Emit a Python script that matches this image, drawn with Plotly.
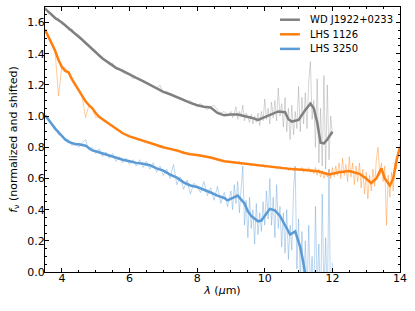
import plotly.graph_objects as go

# ---------------- data ----------------
# smooth (binned) spectra
gray_wl = [3.5, 3.6, 3.8, 4.0, 4.2, 4.4, 4.6, 4.8, 5.0, 5.2, 5.4, 5.6, 5.8, 6.0, 6.2, 6.4, 6.6, 6.8,
           7.0, 7.2, 7.4, 7.6, 7.8, 8.0, 8.2, 8.4, 8.6, 8.8, 9.0, 9.2, 9.4, 9.6, 9.8, 10.0, 10.2,
           10.4, 10.6, 10.7, 10.8, 11.0, 11.2, 11.35, 11.45, 11.55, 11.65, 11.75, 11.85, 11.95, 12.0]
gray_flux = [1.69, 1.67, 1.63, 1.60, 1.565, 1.53, 1.49, 1.45, 1.41, 1.37, 1.34, 1.31, 1.29, 1.265,
             1.245, 1.225, 1.20, 1.18, 1.155, 1.14, 1.12, 1.10, 1.085, 1.07, 1.06, 1.055, 1.02,
             1.005, 1.01, 1.01, 1.00, 0.99, 0.975, 0.995, 1.01, 1.03, 1.025, 0.98, 0.965, 0.975,
             1.04, 1.08, 1.05, 0.96, 0.83, 0.825, 0.85, 0.89, 0.90]

orange_wl = [3.5, 3.6, 3.7, 3.8, 3.9, 4.0, 4.1, 4.2, 4.3, 4.4, 4.5, 4.6, 4.7, 4.8, 4.9, 5.0, 5.1,
             5.2, 5.4, 5.6, 5.8, 6.0, 6.2, 6.4, 6.6, 6.8, 7.0, 7.2, 7.4, 7.6, 7.8, 8.0, 8.4, 8.8,
             9.2, 9.6, 10.0, 10.4, 10.8, 11.2, 11.6, 11.9, 12.2, 12.5, 12.8, 13.0, 13.15, 13.3,
             13.45, 13.55, 13.7, 13.8, 13.9, 14.0]
orange_flux = [1.555, 1.51, 1.465, 1.42, 1.36, 1.315, 1.29, 1.28, 1.235, 1.20, 1.165, 1.13, 1.095,
               1.07, 1.05, 1.02, 0.995, 0.98, 0.95, 0.92, 0.89, 0.87, 0.855, 0.84, 0.825, 0.81,
               0.80, 0.79, 0.78, 0.765, 0.755, 0.75, 0.735, 0.71, 0.70, 0.69, 0.68, 0.67, 0.66,
               0.655, 0.645, 0.625, 0.64, 0.648, 0.63, 0.60, 0.57, 0.60, 0.665, 0.60, 0.555, 0.60,
               0.72, 0.80]

blue_wl = [3.5, 3.6, 3.7, 3.8, 3.9, 4.0, 4.1, 4.2, 4.3, 4.4, 4.5, 4.6, 4.7, 4.8, 4.9, 5.0, 5.2,
           5.4, 5.6, 5.8, 6.0, 6.2, 6.4, 6.6, 6.8, 7.0, 7.2, 7.4, 7.6, 7.8, 8.0, 8.2, 8.4, 8.6,
           8.8, 8.9, 9.0, 9.2, 9.4, 9.5, 9.6, 9.8, 9.9, 10.0, 10.15, 10.3, 10.45, 10.6, 10.75,
           10.9, 11.05, 11.15, 11.2]
blue_flux = [1.005, 0.98, 0.95, 0.92, 0.895, 0.87, 0.85, 0.835, 0.825, 0.82, 0.82, 0.815, 0.81,
             0.795, 0.78, 0.775, 0.76, 0.745, 0.73, 0.72, 0.71, 0.70, 0.695, 0.685, 0.665, 0.65,
             0.625, 0.605, 0.575, 0.555, 0.545, 0.53, 0.51, 0.49, 0.475, 0.46, 0.47, 0.49, 0.44,
             0.39, 0.36, 0.325, 0.33, 0.36, 0.405, 0.395, 0.36, 0.30, 0.24, 0.26, 0.16, 0.05, -0.02]

# raw (unbinned) spectra: coarse grid below 9 um, fine grid above
wl_coarse = [3.5, 3.6, 3.7, 3.8, 3.9, 4.0, 4.1, 4.2, 4.3, 4.4, 4.5, 4.6, 4.7, 4.8, 4.9, 5.0, 5.1,
             5.2, 5.3, 5.4, 5.5, 5.6, 5.7, 5.8, 5.9, 6.0, 6.1, 6.2, 6.3, 6.4, 6.5, 6.6, 6.7, 6.8,
             6.9, 7.0, 7.1, 7.2, 7.3, 7.4, 7.5, 7.6, 7.7, 7.8, 7.9, 8.0, 8.1, 8.2, 8.3, 8.4, 8.5,
             8.6, 8.7, 8.8, 8.9]
wl_fine = [9.0, 9.05, 9.1, 9.15, 9.2, 9.25, 9.3, 9.35, 9.4, 9.45, 9.5, 9.55, 9.6, 9.65, 9.7, 9.75,
           9.8, 9.85, 9.9, 9.95, 10.0, 10.05, 10.1, 10.15, 10.2, 10.25, 10.3, 10.35, 10.4, 10.45,
           10.5, 10.55, 10.6, 10.65, 10.7, 10.75, 10.8, 10.85, 10.9, 10.95, 11.0, 11.05, 11.1,
           11.15, 11.2, 11.25, 11.3, 11.35, 11.4, 11.45, 11.5, 11.55, 11.6, 11.65, 11.7, 11.75,
           11.8, 11.85, 11.9, 11.95, 12.0, 12.05, 12.1, 12.15, 12.2, 12.25, 12.3, 12.35, 12.4,
           12.45, 12.5, 12.55, 12.6, 12.65, 12.7, 12.75, 12.8, 12.85, 12.9, 12.95, 13.0, 13.05,
           13.1, 13.15, 13.2, 13.25, 13.3, 13.35, 13.4, 13.45, 13.5, 13.55, 13.6, 13.65, 13.7,
           13.75, 13.8, 13.85, 13.9, 13.95, 14.0]

gray_raw_coarse = [1.70, 1.66, 1.66, 1.62, 1.63, 1.59, 1.59, 1.55, 1.56, 1.52, 1.52, 1.50, 1.46,
                   1.46, 1.42, 1.42, 1.38, 1.38, 1.35, 1.33, 1.34, 1.30, 1.31, 1.28, 1.27, 1.27,
                   1.24, 1.25, 1.23, 1.22, 1.21, 1.20, 1.19, 1.18, 1.20, 1.15, 1.16, 1.14, 1.13,
                   1.12, 1.12, 1.11, 1.09, 1.10, 1.08, 1.07, 1.08, 1.06, 1.04, 1.06, 1.07, 1.04,
                   1.02, 1.03, 1.00]
gray_raw_fine = [1.03, 0.99, 1.02, 1.06, 0.98, 1.03, 1.00, 1.07, 0.97, 1.02, 0.99, 0.96, 1.01,
                 0.95, 1.00, 0.96, 1.02, 0.94, 1.03, 0.97, 1.11, 0.98, 1.05, 0.95, 1.09, 0.99,
                 1.10, 0.97, 1.18, 1.00, 1.08, 0.93, 1.12, 0.90, 1.05, 0.85, 1.07, 0.88, 1.03,
                 0.92, 1.19, 0.90, 1.12, 0.95, 1.15, 0.92, 1.22, 1.35, 0.98, 1.10, 0.80, 1.24,
                 0.70, 1.05, 0.68, 1.26, 0.66, 1.20, 0.72, 1.00, 0.88]

orange_raw_coarse = [1.56, 1.50, 1.47, 1.41, 1.13, 1.32, 1.31, 1.27, 1.24, 1.19, 1.17, 1.12, 0.99,
                     1.07, 1.05, 0.99, 1.00, 0.98, 0.97, 0.95, 0.94, 0.92, 0.91, 0.89, 0.88, 0.87,
                     0.86, 0.86, 0.85, 0.84, 0.83, 0.83, 0.82, 0.81, 0.80, 0.80, 0.79, 0.79, 0.78,
                     0.78, 0.77, 0.77, 0.76, 0.76, 0.75, 0.75, 0.75, 0.74, 0.74, 0.73, 0.73, 0.72,
                     0.72, 0.71, 0.71]
orange_raw_fine = [0.71, 0.70, 0.71, 0.70, 0.70, 0.71, 0.69, 0.70, 0.69, 0.70, 0.69, 0.70, 0.68,
                   0.69, 0.69, 0.68, 0.69, 0.68, 0.68, 0.69, 0.67, 0.68, 0.68, 0.67, 0.68, 0.67,
                   0.68, 0.66, 0.67, 0.68, 0.66, 0.67, 0.66, 0.67, 0.65, 0.67, 0.66, 0.65, 0.67,
                   0.66, 0.65, 0.66, 0.67, 0.64, 0.66, 0.65, 0.67, 0.64, 0.66, 0.63, 0.67, 0.62,
                   0.66, 0.61, 0.65, 0.60, 0.64, 0.61, 0.66, 0.60, 0.67, 0.61, 0.68, 0.62, 0.70,
                   0.60, 0.73, 0.62, 0.69, 0.58, 0.74, 0.61, 0.70, 0.56, 0.68, 0.58, 0.70, 0.54,
                   0.66, 0.50, 0.64, 0.47, 0.62, 0.52, 0.66, 0.55, 0.72, 0.80, 0.62, 0.70, 0.58,
                   0.68, 0.30, 0.62, 0.48, 0.64, 0.52, 0.70, 0.66, 0.78, 0.82]

blue_raw_coarse = [1.00, 0.99, 0.94, 0.93, 0.88, 0.88, 0.84, 0.85, 0.81, 0.83, 0.80, 0.83, 0.85,
                   0.78, 0.80, 0.76, 0.79, 0.74, 0.77, 0.73, 0.76, 0.71, 0.74, 0.70, 0.73, 0.69,
                   0.72, 0.68, 0.72, 0.67, 0.71, 0.66, 0.70, 0.64, 0.68, 0.62, 0.66, 0.60, 0.69,
                   0.56, 0.61, 0.53, 0.59, 0.50, 0.57, 0.55, 0.51, 0.58, 0.49, 0.54, 0.46, 0.55,
                   0.44, 0.51, 0.42]
blue_raw_fine = [0.52, 0.40, 0.56, 0.44, 0.58, 0.38, 0.52, 0.68, 0.30, 0.46, 0.22, 0.48, 0.28,
                 0.40, 0.18, 0.44, 0.24, 0.38, 0.26, 0.45, 0.30, 0.52, 0.34, 0.60, 0.30, 0.48,
                 0.22, 0.56, 0.28, 0.42, 0.16, 0.38, 0.12, 0.40, 0.08, 0.30, 0.14, 0.52, 0.68,
                 0.02, 0.34, -0.05, 0.26, -0.10, 0.20, -0.15, 0.30, -0.12, 0.10, -0.20, 0.42,
                 -0.10, 0.18, -0.25, 0.50, -0.15, 0.22, -0.20, 0.66, -0.30, 0.06]

names = ["WD J1922+0233", "LHS 1126", "LHS 3250"]
dark_colors = ["rgb(128,128,128)", "rgb(255,127,14)", "rgb(91,155,213)"]
light_colors = ["rgba(150,150,150,0.4)", "rgba(255,127,14,0.4)", "rgba(91,155,213,0.4)"]

# ---------------- figure ----------------
fig = go.Figure()

raw_sets = [
    (wl_coarse + wl_fine[:len(gray_raw_fine)], gray_raw_coarse + gray_raw_fine),
    (wl_coarse + wl_fine[:len(orange_raw_fine)], orange_raw_coarse + orange_raw_fine),
    (wl_coarse + wl_fine[:len(blue_raw_fine)], blue_raw_coarse + blue_raw_fine),
]
for (x, y), c in zip(raw_sets, light_colors):
    fig.add_trace(go.Scatter(x=x, y=y, mode="lines", line=dict(color=c, width=1),
                             showlegend=False, hoverinfo="skip"))

smooth_sets = [(gray_wl, gray_flux), (orange_wl, orange_flux), (blue_wl, blue_flux)]
for (x, y), c, n in zip(smooth_sets, dark_colors, names):
    fig.add_trace(go.Scatter(x=x, y=y, mode="lines", name=n, showlegend=False,
                             line=dict(color=c, width=2.5)))

# legend drawn as line samples + labels (paper coordinates)
legend_rows_y = [0.952, 0.897, 0.842]
for n, c, ly in zip(names, dark_colors, legend_rows_y):
    fig.add_shape(type="line", xref="paper", yref="paper", x0=0.662, x1=0.718, y0=ly, y1=ly,
                  line=dict(color=c, width=2.5))
    fig.add_annotation(xref="paper", yref="paper", x=0.742, y=ly, text=n, showarrow=False,
                       xanchor="left", yanchor="middle",
                       font=dict(family="DejaVu Sans", size=10, color="black"))

axis_common = dict(
    showline=True, linecolor="black", linewidth=1, mirror="ticks",
    ticks="inside", ticklen=4, tickwidth=1, tickcolor="black",
    showgrid=False, zeroline=False,
    tickfont=dict(family="DejaVu Sans", size=11, color="black"),
)

fig.update_xaxes(range=[3.5, 14], dtick=2, tick0=0, ticklabelstandoff=-4,
                 minor=dict(ticks="inside", ticklen=2, tickcolor="black", dtick=0.5),
                 title=dict(text="<i>λ</i> (<i>μ</i>m)", standoff=2,
                            font=dict(family="DejaVu Sans", size=11, color="black")),
                 **axis_common)
fig.update_yaxes(range=[0, 1.7], dtick=0.2, tick0=0, tickformat=".1f", ticklabelstandoff=-3,
                 minor=dict(ticks="inside", ticklen=2, tickcolor="black", dtick=0.05),
                 title=dict(text="<i>f</i><sub>ν</sub> (normalized and shifted)", standoff=7,
                            font=dict(family="DejaVu Sans", size=11, color="black")),
                 **axis_common)

fig.update_layout(
    width=415, height=311,
    margin=dict(l=45, r=15, t=7, b=39),
    plot_bgcolor="white", paper_bgcolor="white",
    font=dict(family="DejaVu Sans", size=11, color="black"),
    showlegend=False,
)

fig.write_html("out.html", config={"displayModeBar": False},
               post_script="document.body.style.margin='0';")
